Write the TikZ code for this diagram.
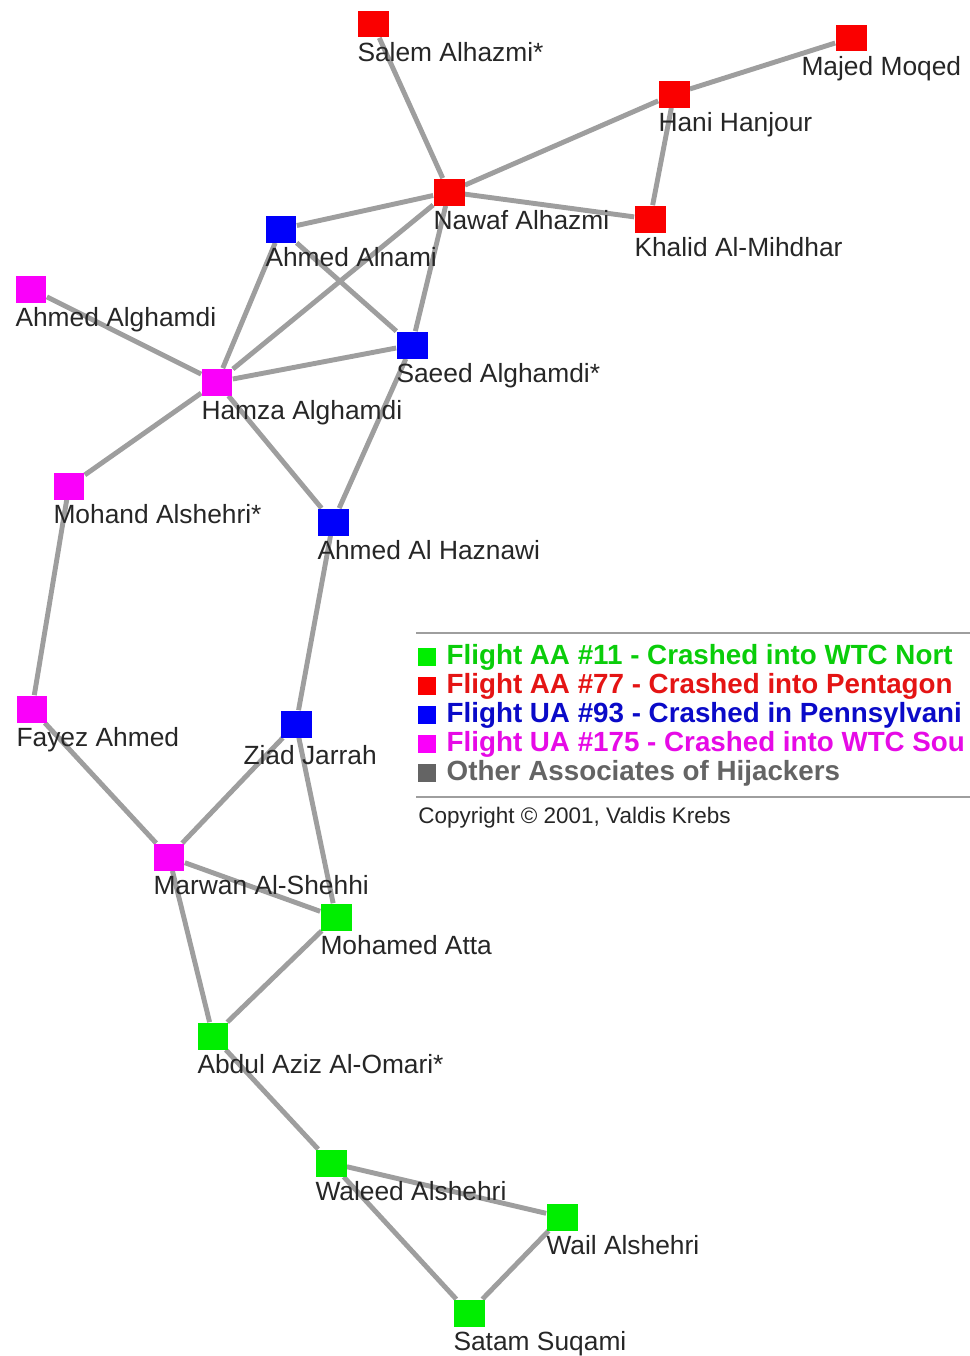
\documentclass[tikz,border=0pt]{standalone}
\usepackage{fontspec}
\setmainfont{Liberation Sans}
\usetikzlibrary{positioning,backgrounds}

\definecolor{aagreen}{RGB}{0,238,0}
\definecolor{aared}{RGB}{250,0,0}
\definecolor{uablue}{RGB}{0,0,250}
\definecolor{uapink}{RGB}{250,0,250}
\definecolor{tiegray}{RGB}{158,158,158}
\definecolor{txtgreen}{RGB}{10,205,10}
\definecolor{txtred}{RGB}{228,20,20}
\definecolor{txtblue}{RGB}{10,10,200}
\definecolor{txtpink}{RGB}{230,10,230}
\definecolor{txtgray}{RGB}{100,100,100}

\begin{document}
\begin{tikzpicture}[x=0.02cm,y=-0.02cm,
  member/.style={rectangle,fill=#1,inner sep=0pt,minimum width=0.62cm,minimum height=0.54cm},
  tag/.style={anchor=north west,inner xsep=0pt,inner ysep=2.3pt,text=black!85,font=\fontsize{15}{18}\selectfont},
  tie/.style={draw=tiegray,line width=2.8pt},
  keybox/.style={rectangle,fill=#1,inner sep=0pt,minimum size=0.36cm},
  keytext/.style={inner sep=0pt,font=\bfseries\fontsize{15.8}{19}\selectfont},
  rule/.style={draw=tiegray,line width=1.6pt}]
\useasboundingbox (0,0) rectangle (970,1356);
\clip (0,0) rectangle (970,1356);

% AA 77
\node[member=aared] (salem) at (373,24) [label={[tag]south west:Salem Alhazmi*}] {};
\node[member=aared] (majed) at (851,38) [label={[tag,xshift=-0.68cm]south west:Majed Moqed}] {};
\node[member=aared] (hani) at (674,94) [label={[tag]south west:Hani Hanjour}] {};
\node[member=aared] (nawaf) at (449,192) [label={[tag]south west:Nawaf Alhazmi}] {};
\node[member=aared] (khalid) at (650,219) [label={[tag]south west:Khalid Al-Mihdhar}] {};

% UA 93
\node[member=uablue] (alnami) at (281,229) [label={[tag]south west:Ahmed Alnami}] {};
\node[member=uablue] (saeed) at (412,345) [label={[tag]south west:Saeed Alghamdi*}] {};
\node[member=uablue] (haznawi) at (333,522) [label={[tag]south west:Ahmed Al Haznawi}] {};
\node[member=uablue] (ziad) at (296,724) [label={[tag,xshift=-0.74cm,yshift=-0.06cm]south west:Ziad Jarrah}] {};

% UA 175
\node[member=uapink] (ahmedag) at (31,289) [label={[tag]south west:Ahmed Alghamdi}] {};
\node[member=uapink] (hamza) at (217,382) [label={[tag]south west:Hamza Alghamdi}] {};
\node[member=uapink] (mohand) at (69,486) [label={[tag]south west:Mohand Alshehri*}] {};
\node[member=uapink] (fayez) at (32,709) [label={[tag]south west:Fayez Ahmed}] {};
\node[member=uapink] (marwan) at (169,857) [label={[tag]south west:Marwan Al-Shehhi}] {};

% AA 11
\node[member=aagreen] (atta) at (336,917) [label={[tag]south west:Mohamed Atta}] {};
\node[member=aagreen] (abdul) at (213,1036) [label={[tag]south west:Abdul Aziz Al-Omari*}] {};
\node[member=aagreen] (waleed) at (331,1163) [label={[tag]south west:Waleed Alshehri}] {};
\node[member=aagreen] (wail) at (562,1217) [label={[tag]south west:Wail Alshehri}] {};
\node[member=aagreen] (satam) at (469,1313) [label={[tag]south west:Satam Suqami}] {};

\begin{scope}[on background layer]
\draw[tie] (salem)--(nawaf) (majed)--(hani) (hani)--(nawaf) (hani)--(khalid)
  (nawaf)--(khalid) (nawaf)--(alnami) (nawaf)--(hamza) (nawaf)--(saeed)
  (alnami)--(hamza) (alnami)--(saeed) (ahmedag)--(hamza) (hamza)--(saeed)
  (hamza)--(mohand) (hamza)--(haznawi) (saeed)--(haznawi) (haznawi)--(ziad)
  (mohand)--(fayez) (fayez)--(marwan) (ziad)--(marwan) (ziad)--(atta)
  (marwan)--(atta) (marwan)--(abdul) (atta)--(abdul) (abdul)--(waleed)
  (waleed)--(wail) (waleed)--(satam) (wail)--(satam);
\end{scope}

% legend
\draw[rule] (416,633) -- (970,633);
\draw[rule] (416,797) -- (970,797);
\node[keybox=aagreen] (k11) at (427,657) {};
\node[keybox=aared] (k77) at (427,686) {};
\node[keybox=uablue] (k93) at (427,715) {};
\node[keybox=uapink] (k175) at (427,744) {};
\node[keybox=txtgray] (kother) at (427,773) {};
\node[keytext,text=txtgreen,right=0.2cm of k11] {Flight AA \#11 - Crashed into WTC Nort};
\node[keytext,text=txtred,right=0.2cm of k77] {Flight AA \#77 - Crashed into Pentagon};
\node[keytext,text=txtblue,right=0.2cm of k93] {Flight UA \#93 - Crashed in Pennsylvani};
\node[keytext,text=txtpink,right=0.2cm of k175] {Flight UA \#175 - Crashed into WTC Sou};
\node[keytext,text=txtgray,right=0.2cm of kother] {Other Associates of Hijackers};
\node[anchor=west,inner sep=0pt,text=black!85,font=\fontsize{12.8}{15}\selectfont] (copy) at (418,818) {Copyright © 2001, Valdis Krebs};
\end{tikzpicture}
\end{document}
